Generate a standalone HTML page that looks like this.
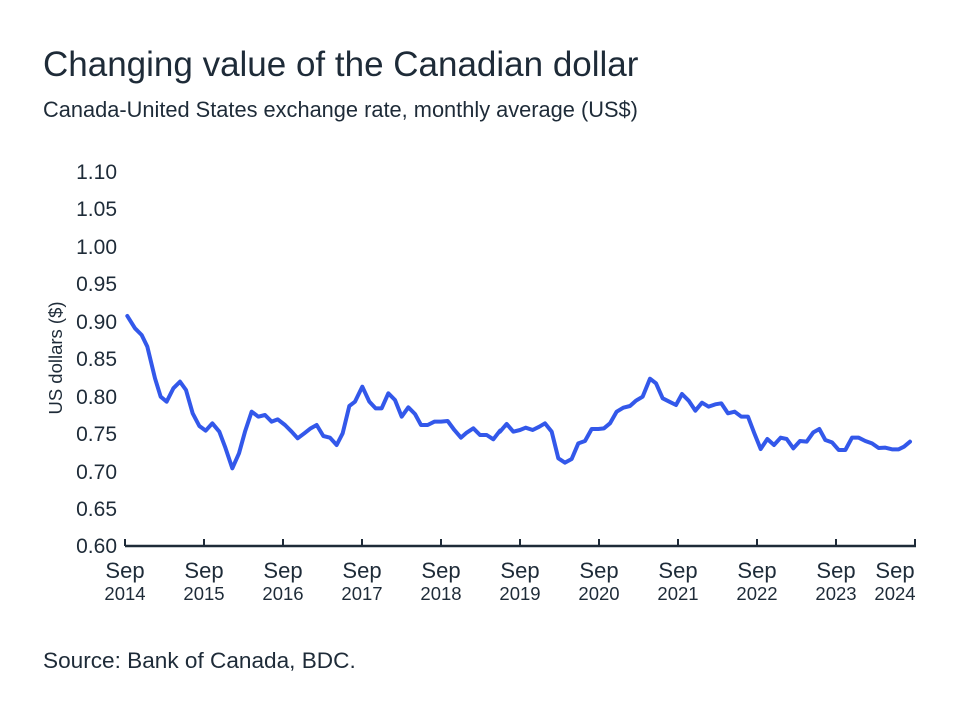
<!DOCTYPE html>
<html><head><style>
body{margin:0;background:#fff;}
svg text{font-family:"Liberation Sans",sans-serif;fill:#1e2b38;}
</style></head><body>
<svg width="960" height="720" viewBox="0 0 960 720" xmlns="http://www.w3.org/2000/svg">
<text x="43" y="76" font-size="35">Changing value of the Canadian dollar</text>
<text x="43" y="117" font-size="21.8">Canada-United States exchange rate, monthly average (US$)</text>
<g font-size="21" text-anchor="end">
<text x="117" y="179">1.10</text>
<text x="117" y="216">1.05</text>
<text x="117" y="254">1.00</text>
<text x="117" y="291">0.95</text>
<text x="117" y="329">0.90</text>
<text x="117" y="366">0.85</text>
<text x="117" y="404">0.80</text>
<text x="117" y="441">0.75</text>
<text x="117" y="479">0.70</text>
<text x="117" y="516">0.65</text>
<text x="117" y="553">0.60</text>
</g>
<text transform="translate(62,358) rotate(-90)" font-size="18.5" text-anchor="middle">US dollars ($)</text>
<line x1="125" y1="546" x2="916" y2="546" stroke="#1e2b38" stroke-width="2.5"/>
<g stroke="#1e2b38" stroke-width="2">
<line x1="125" y1="546" x2="125" y2="539"/><line x1="204" y1="546" x2="204" y2="539"/>
<line x1="283" y1="546" x2="283" y2="539"/><line x1="362" y1="546" x2="362" y2="539"/>
<line x1="441" y1="546" x2="441" y2="539"/><line x1="520" y1="546" x2="520" y2="539"/>
<line x1="599" y1="546" x2="599" y2="539"/><line x1="678" y1="546" x2="678" y2="539"/>
<line x1="757" y1="546" x2="757" y2="539"/><line x1="836" y1="546" x2="836" y2="539"/>
<line x1="915" y1="546" x2="915" y2="539"/>
</g>
<g font-size="22" text-anchor="middle">
<text x="125" y="578">Sep</text><text x="204" y="578">Sep</text><text x="283" y="578">Sep</text>
<text x="362" y="578">Sep</text><text x="441" y="578">Sep</text><text x="520" y="578">Sep</text>
<text x="599" y="578">Sep</text><text x="678" y="578">Sep</text><text x="757" y="578">Sep</text>
<text x="836" y="578">Sep</text><text x="895" y="578">Sep</text>
</g>
<g font-size="18.5" text-anchor="middle">
<text x="125" y="600">2014</text><text x="204" y="600">2015</text><text x="283" y="600">2016</text>
<text x="362" y="600">2017</text><text x="441" y="600">2018</text><text x="520" y="600">2019</text>
<text x="599" y="600">2020</text><text x="678" y="600">2021</text><text x="757" y="600">2022</text>
<text x="836" y="600">2023</text><text x="895" y="600">2024</text>
</g>
<g fill="none" stroke="#3358ea" stroke-width="4" stroke-linejoin="round" stroke-linecap="round">
<polyline vector-effect="non-scaling-stroke" transform="translate(40,300) scale(0.33333)" points="262,48 285,85 305,105 322,140 345,235 362,290 380,305 400,265 420,245 438,270 458,340 478,378 497,392 517,370 538,395 555,440 577,505 597,460 615,395 635,335 655,350 675,345 695,365 713,358 735,375 755,395 773,415 793,400 812,385 830,375 850,408 870,413 890,435 908,400 928,318 945,305 967,260 988,305 1007,325 1025,325 1045,280 1065,300 1085,350 1105,322 1125,342 1143,375 1163,375 1183,365 1203,365 1223,363 1243,390 1263,413 1280,398 1300,385 1320,405 1340,405 1360,418 1380,392"/>
<polyline vector-effect="non-scaling-stroke" transform="translate(480,300) scale(0.33333)" points="60,395 80,372 100,395 120,390 137,383 158,390 178,380 195,370 215,395 235,475 255,488 275,477 295,430 315,423 335,387 355,387 372,385 390,370 410,335 430,323 450,318 468,302 488,290 510,236 528,250 548,295 568,305 588,315 606,282 626,302 646,332 666,308 686,320 706,313 724,310 744,340 764,335 784,350 804,350 823,400 842,447 862,417 882,435 902,413 920,417 940,445 960,423 980,425 1000,397 1018,387 1036,420 1056,427 1076,450 1096,450 1116,413 1136,413 1156,423 1176,430 1196,444 1216,443 1236,448 1256,448 1272,440 1290,425"/>
</g>
<text x="43" y="668" font-size="22.6">Source: Bank of Canada, BDC.</text>
</svg>
</body></html>
